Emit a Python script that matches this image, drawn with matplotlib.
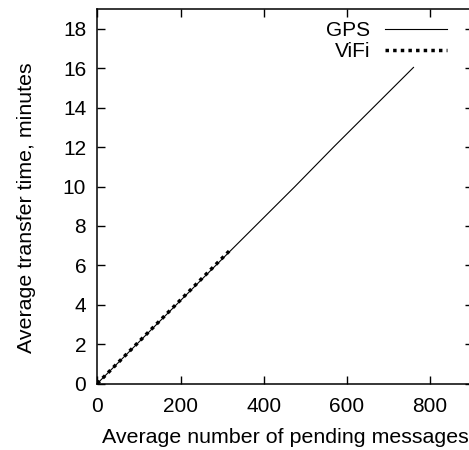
import matplotlib
matplotlib.use("Agg")
import matplotlib.pyplot as plt

plt.rcParams["font.family"] = ["Liberation Sans", "DejaVu Sans"]

# Average pending messages vs. average transfer time (minutes)
gps_msgs = [0, 95, 190, 285, 380, 475, 570, 665, 760]
gps_time = [0.0, 2.0, 4.0, 6.0, 8.0, 10.0, 12.05, 14.05, 16.05]

vifi_msgs = [0, 13.2, 26.4, 39.6, 52.8, 66.0, 79.2, 92.4, 105.6, 118.8, 132.0,
             145.2, 158.4, 171.6, 184.8, 198.0, 211.2, 224.4, 237.6, 250.8,
             264.0, 277.2, 290.4, 303.6, 316.8]
vifi_time = [0.0, 0.28, 0.56, 0.84, 1.12, 1.40, 1.68, 1.96, 2.24, 2.52, 2.80,
             3.08, 3.36, 3.64, 3.92, 4.20, 4.48, 4.76, 5.04, 5.32, 5.60, 5.88,
             6.16, 6.44, 6.72]

x_ticks = [0, 200, 400, 600, 800]
y_ticks = [0, 2, 4, 6, 8, 10, 12, 14, 16, 18]

FS = 15
W, H = 469, 450
fig = plt.figure(figsize=(W / 100, H / 100), dpi=100)
left, right, bottom, top = 97.3, 473.0, 383.5, 9.3
ax = fig.add_axes([left / W, (H - bottom) / H, (right - left) / W, (bottom - top) / H])

ax.plot(gps_msgs, gps_time, color="black", lw=0.8, label="GPS")
ax.plot(vifi_msgs, vifi_time, color="black", lw=2.5, linestyle=(0, (1.0, 1.2)),
        dash_capstyle="butt", label="ViFi")

ax.set_xlim(0, 903)
ax.set_ylim(0, 19)
ax.set_xticks(x_ticks)
ax.set_yticks(y_ticks)
ax.tick_params(direction="in", length=6, width=1.0, top=True, right=True,
               labelsize=FS, pad=8)
ax.tick_params(axis="x", pad=10)
for s in ax.spines.values():
    s.set_linewidth(1.1)

ax.set_xlabel("Average number of pending messages", fontsize=15.4)
ax.set_ylabel("Average transfer time, minutes", fontsize=15.4)
ax.xaxis.set_label_coords(0.5, -(428 - bottom) / (bottom - top))
ax.yaxis.set_label_coords(-(left - 36.5) / (right - left), (bottom - 207.5) / (bottom - top))

leg = ax.legend(loc="upper right", bbox_to_anchor=((456 - left) / (right - left),
                                                   (bottom - 12) / (bottom - top)),
                frameon=False, markerfirst=False, fontsize=FS, handlelength=2.95,
                handletextpad=0.7, labelspacing=0.1, borderaxespad=0.25,
                borderpad=0.2)

fig.savefig("out.png", dpi=100)
